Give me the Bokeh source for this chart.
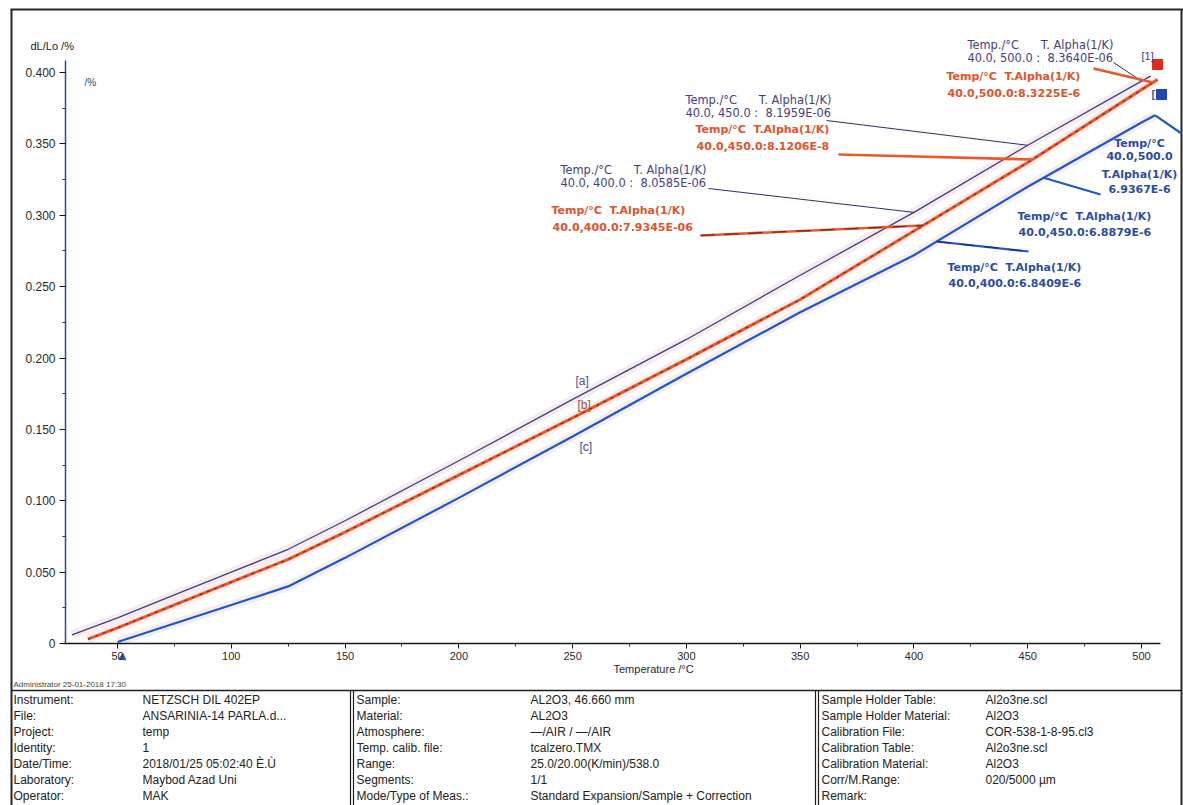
import numpy as np
from bokeh.plotting import figure
from bokeh.models import Range1d, FixedTicker, NumeralTickFormatter, Label
from bokeh.core.properties import value
from bokeh.embed import file_html
from bokeh.resources import INLINE

# ---------------- data: dL/Lo (%) versus temperature (°C) ----------------
temp_a = [30, 50, 75, 100, 125, 150, 200, 250, 300, 350, 400, 450, 500, 504]
dl_a = [0.006, 0.018, 0.034, 0.050, 0.066, 0.086, 0.128, 0.171, 0.213, 0.258, 0.302, 0.349, 0.394, 0.3975]

temp_b = [37, 50, 75, 100, 125, 150, 200, 250, 300, 350, 400, 450, 500, 507]
dl_b = [0.003, 0.011, 0.027, 0.043, 0.059, 0.078, 0.118, 0.158, 0.199, 0.241, 0.289, 0.337, 0.388, 0.395]

temp_c = [50, 75, 100, 125, 150, 200, 250, 300, 350, 400, 450, 500, 506]
dl_c = [0.001, 0.014, 0.027, 0.040, 0.060, 0.102, 0.145, 0.189, 0.232, 0.272, 0.320, 0.365, 0.370]

x_ticks = [50, 100, 150, 200, 250, 300, 350, 400, 450, 500]
x_minor = [75, 125, 175, 225, 275, 325, 375, 425, 475]
y_ticks = [0, 0.05, 0.10, 0.15, 0.20, 0.25, 0.30, 0.35, 0.40]
y_minor = [0.025, 0.075, 0.125, 0.175, 0.225, 0.275, 0.325, 0.375]

# mean expansion coefficients 40 °C .. T_end
t_end = ["400.0", "450.0", "500.0"]
alpha_a = ["8.0585E-06", "8.1959E-06", "8.3640E-06"]
alpha_b = ["7.9345E-06", "8.1206E-8", "8.3225E-6"]
alpha_c = ["6.8409E-6", "6.8879E-6", "6.9367E-6"]

# info table
info_lab1 = ["Instrument:", "File:", "Project:", "Identity:", "Date/Time:", "Laboratory:", "Operator:"]
info_val1 = ["NETZSCH DIL 402EP", "ANSARINIA-14 PARLA.d...", "temp", "1",
             "2018/01/25 05:02:40 È.Ù", "Maybod Azad Uni", "MAK"]
info_lab2 = ["Sample:", "Material:", "Atmosphere:", "Temp. calib. file:", "Range:", "Segments:",
             "Mode/Type of Meas.:"]
info_val2 = ["AL2O3, 46.660 mm", "AL2O3", "—/AIR / —/AIR", "tcalzero.TMX", "25.0/20.00(K/min)/538.0",
             "1/1", "Standard Expansion/Sample + Correction"]
info_lab3 = ["Sample Holder Table:", "Sample Holder Material:", "Calibration File:", "Calibration Table:",
             "Calibration Material:", "Corr/M.Range:", "Remark:"]
info_val3 = ["Al2o3ne.scl", "Al2O3", "COR-538-1-8-95.cl3", "Al2o3ne.scl", "Al2O3", "020/5000 µm", ""]

# ---------------- styling ----------------
C_A = "#463c86"
C_B = "#e85a2c"
C_B_TXT = "#e2532a"
C_C = "#1f58c4"
C_C_TXT = "#2a4ca6"
FONT = "Liberation Sans"
DEJA = "DejaVu Sans"
NB = "\u00a0"

# page-pixel helpers: the plot frame fills the whole page; the temperature
# axis runs from x=65 to 1160 and the dL/Lo axis from y=643 up to y=60
X_PER_DEG = 2.2756
Y_PER_UNIT = 1427.5


def tx(px):
    return 50 + (px - 117) / X_PER_DEG


def vy(py):
    return (643 - py) / Y_PER_UNIT


W, H = 1183, 805
p = figure(width=W, height=H, x_range=Range1d(tx(0), tx(W)), y_range=Range1d(vy(H), vy(0)),
           toolbar_location=None, output_backend="svg",
           min_border=0, min_border_left=0, min_border_right=0, min_border_top=0, min_border_bottom=0)
p.grid.visible = False
p.outline_line_color = None
p.background_fill_color = "white"
p.border_fill_color = "white"

xa = p.xaxis[0]
xa.fixed_location = 0
xa.bounds = (tx(63), tx(1160))
xa.ticker = FixedTicker(ticks=x_ticks, minor_ticks=x_minor)
xa.axis_line_color = "#1a1a1a"
xa.axis_line_width = 1.5
xa.major_tick_line_color = "#1a1a1a"
xa.minor_tick_line_color = "#333333"
xa.major_tick_out = 5
xa.major_tick_in = 0
xa.minor_tick_out = 3
xa.minor_tick_in = 0
xa.major_label_text_font = FONT
xa.major_label_text_font_size = "11px"
xa.major_label_text_color = "#2a2a2a"
xa.major_label_standoff = 3

ya = p.yaxis[0]
ya.fixed_location = tx(65)
ya.bounds = (0, vy(60))
ya.ticker = FixedTicker(ticks=y_ticks, minor_ticks=y_minor)
ya.formatter = NumeralTickFormatter(format="0.000")
ya.major_label_overrides = {0: "0"}
ya.axis_line_color = "#2b47a0"
ya.axis_line_width = 1.5
ya.major_tick_line_color = "#1a1a1a"
ya.minor_tick_line_color = "#333333"
ya.major_tick_out = 6
ya.major_tick_in = 0
ya.minor_tick_out = 3
ya.minor_tick_in = 0
ya.major_label_text_font = FONT
ya.major_label_text_font_size = "12px"
ya.major_label_text_color = "#2a2a2a"
ya.major_label_standoff = 4

# page frame
p.segment(x0=[tx(11), tx(10), tx(1181)], y0=[vy(9), vy(9), vy(9)],
          x1=[tx(11), tx(W), tx(1181)], y1=[vy(H), vy(9), vy(H)],
          line_color="#262626", line_width=2)

# faint halo under the traces
for t, d in ((temp_a, dl_a), (temp_b, dl_b), (temp_c, dl_c)):
    p.line(t, d, line_color="#f5eced", line_width=9)

# the three curves
p.line(temp_a, dl_a, line_color=C_A, line_width=1.3)
p.line(temp_b, dl_b, line_color=C_B, line_width=3)
p.line(temp_b, dl_b, line_color="#8c2a1c", line_width=1.2, line_dash="3 5")
p.line(temp_c, dl_c, line_color=C_C, line_width=2.2)


def lab(px, py, text, color, size="11px", style="normal", align="left", font=FONT):
    p.add_layout(Label(x=tx(px), y=vy(py), text=text, text_color=color, text_font=font,
                       text_font_size=size, text_font_style=style, text_align=align,
                       text_baseline="top"))


# axis titles
lab(30, 39, "dL/Lo /%", "#1a1a1a", "11px")
lab(84, 76, "/%", "#2a4a6a", "10px")
lab(613, 662, "Temperature /°C", "#2a2a2a", "11px")

# curve tags and segment markers
lab(575, 373, "[a]", "#5a4a8a", "12px")
lab(577, 397, "[b]", "#b0432a", "12px")
lab(579, 439, "[c]", "#2c4f9e", "12px")
lab(1141, 49, "[1]", C_A, "11px")
lab(1151, 87, "[", C_C, "11px", "bold")
p.scatter([tx(1157)], [vy(64)], marker="square", size=10, fill_color="#e02a1c", line_color="#e02a1c")
p.scatter([tx(1161)], [vy(94)], marker="square", size=10, fill_color="#1f45b8", line_color="#1f45b8")
p.scatter([tx(122)], [vy(657)], marker="triangle", size=7, angle=-2.2, fill_color="#2a55c0",
          line_color="#2a55c0")

# ----- annotation boxes and leader lines -----
a_txt = [(560, 162), (685, 92), (967, 37)]
a_lead = [(708, 188), (826, 120), (1113, 62)]
a_anchor = [400, 450, 500]
for (px, py), (lx, ly), t_a, te, al in zip(a_txt, a_lead, a_anchor, t_end, alpha_a):
    lab(px, py, f"Temp./°C{NB * 6}T. Alpha(1/K)", C_A, "11.4px", font=DEJA)
    lab(px, py + 13, f"40.0, {te} :{NB * 2}{al}", C_A, "11.4px", font=DEJA)
    p.segment(x0=[tx(lx)], y0=[vy(ly)], x1=[t_a], y1=[float(np.interp(t_a, temp_a, dl_a))],
              line_color="#2e2e66", line_width=1)

b_txt = [(551, 203), (695, 122), (946, 69)]
b_lead = [(700, 235), (838, 154), (1093, 68)]
b_anchor = [404, 452, 505]
for (px, py), (lx, ly), t_b, te, al in zip(b_txt, b_lead, b_anchor, t_end, alpha_b):
    lab(px, py, f"Temp/°C{NB * 2}T.Alpha(1/K)", C_B_TXT, "11px", "bold", font=DEJA)
    lab(px + 1, py + 17, f"40.0,{te}:{al}", C_B_TXT, "11px", "bold", font=DEJA)
    p.segment(x0=[tx(lx)], y0=[vy(ly)], x1=[t_b], y1=[float(np.interp(t_b, temp_b, dl_b))],
              line_color=C_B, line_width=2.6)
p.segment(x0=[tx(b_lead[0][0])], y0=[vy(b_lead[0][1])], x1=[b_anchor[0]],
          y1=[float(np.interp(b_anchor[0], temp_b, dl_b))], line_color="#6a2a20", line_width=1.2,
          line_dash="14 10")

c_txt = [(947, 260), (1017, 209)]
c_lead = [(1028, 251), (1100, 194), (1181, 133)]
c_anchor = [410, 457, 506]
for (px, py), te, al in zip(c_txt, t_end[:2], alpha_c[:2]):
    lab(px, py, f"Temp/°C{NB * 2}T.Alpha(1/K)", C_C_TXT, "11px", "bold", font=DEJA)
    lab(px + 1, py + 16, f"40.0,{te}:{al}", C_C_TXT, "11px", "bold", font=DEJA)
for i, line in enumerate(["Temp/°C", f"40.0,{t_end[2]}", "T.Alpha(1/K)", alpha_c[2]]):
    lab(1139, 136 + 15.5 * i, line, C_C_TXT, "11px", "bold", align="center", font=DEJA)
for (lx, ly), t_c in zip(c_lead, c_anchor):
    p.segment(x0=[t_c], y0=[float(np.interp(t_c, temp_c, dl_c))], x1=[tx(lx)], y1=[vy(ly)],
              line_color=C_C, line_width=2.2)
p.segment(x0=[c_anchor[0]], y0=[float(np.interp(c_anchor[0], temp_c, dl_c))], x1=[tx(c_lead[0][0])],
          y1=[vy(c_lead[0][1])], line_color="#1a2f70", line_width=1.2, line_dash="14 10")

# ---------------- info table under the plot ----------------
p.segment(x0=[tx(11)], y0=[vy(690)], x1=[tx(1181)], y1=[vy(690)], line_color="#1e1e1e", line_width=1.5)
p.segment(x0=[tx(v) for v in (350, 353, 815, 818)], y0=[vy(690)] * 4,
          x1=[tx(v) for v in (350, 353, 815, 818)], y1=[vy(H)] * 4,
          line_color="#1e1e1e", line_width=1.2)
p.text(x=[tx(13)], y=[vy(684)], text=["Administrator   25-01-2018 17:30"], text_font=value(FONT),
       text_font_size="8px", text_color="#444444", text_baseline="middle")

row_y = [vy(699 + 16 * i) for i in range(7)]
for xcol, texts in ((13, info_lab1), (142, info_val1), (356, info_lab2), (530, info_val2),
                    (821, info_lab3), (985, info_val3)):
    p.text(x=[tx(xcol)] * len(texts), y=row_y, text=texts, text_font=value(FONT), text_font_size="12px",
           text_color="#222222", text_baseline="middle")

open("out.html", "w").write(file_html(p, INLINE))
